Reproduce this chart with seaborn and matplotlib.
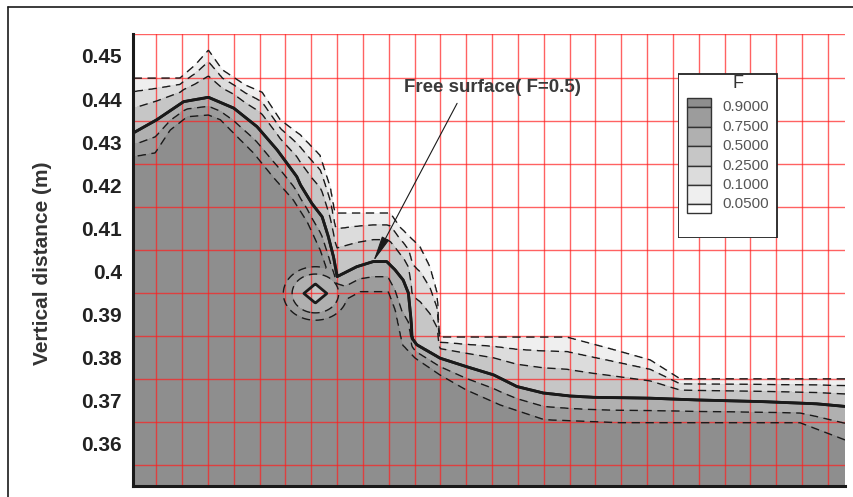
import numpy as np
import matplotlib
matplotlib.use("Agg")
import matplotlib.pyplot as plt
import seaborn as sns
from matplotlib.patches import Rectangle
from matplotlib.lines import Line2D
from matplotlib.ticker import MultipleLocator, FixedLocator, FuncFormatter

sns.set_theme(style="white")
plt.rcParams["font.family"] = ["Liberation Sans", "DejaVu Sans"]
plt.rcParams["lines.dashed_pattern"] = [6, 4]

# ---------------- data ----------------
# free surface, F = 0.5
surf_x = [0.0655, 0.0701, 0.0753, 0.0801, 0.0850, 0.0895, 0.0934, 0.0972, 0.0979,
          0.1001, 0.1021, 0.1033, 0.1043, 0.1050, 0.1088, 0.1120, 0.1146, 0.1162,
          0.1178, 0.1188, 0.1193, 0.1195, 0.1204, 0.1249, 0.1301, 0.1353, 0.1398,
          0.1449, 0.1501, 0.1546, 0.1656, 0.1746, 0.1875, 0.1978, 0.2033]
surf_y = [0.4321, 0.4352, 0.4394, 0.4404, 0.4379, 0.4336, 0.4282, 0.4220, 0.4201,
          0.4158, 0.4127, 0.4081, 0.4034, 0.3988, 0.4011, 0.4023, 0.4023, 0.4004,
          0.3980, 0.3950, 0.3888, 0.3845, 0.3830, 0.3799, 0.3779, 0.3760, 0.3733,
          0.3718, 0.3711, 0.3708, 0.3706, 0.3702, 0.3698, 0.3693, 0.3687]
# outer edge of the interface zone, F = 0.05
top_x = [0.0655, 0.0746, 0.0775, 0.0801, 0.0828, 0.0872, 0.0905, 0.0940, 0.0979,
         0.1017, 0.1037, 0.1046, 0.1153, 0.1172, 0.1211, 0.1230, 0.1244, 0.1247,
         0.1249, 0.1495, 0.1573, 0.1656, 0.1714, 0.2033]
top_y = [0.4449, 0.4449, 0.4479, 0.4514, 0.4468, 0.4433, 0.4416, 0.4352, 0.4317,
         0.4270, 0.4196, 0.4136, 0.4136, 0.4103, 0.4057, 0.4011, 0.3950, 0.3871,
         0.3848, 0.3848, 0.3823, 0.3795, 0.3751, 0.3751]
# inner edge of the interface zone, F = 0.9
bot_x = [0.0655, 0.0698, 0.0727, 0.0760, 0.0801, 0.0824, 0.0857, 0.0888, 0.0926,
         0.0965, 0.0992, 0.1017, 0.1040, 0.1066, 0.1095, 0.1149, 0.1162, 0.1176,
         0.1201, 0.1249, 0.1300, 0.1366, 0.1451, 0.1598, 0.1946, 0.2033]
bot_y = [0.4266, 0.4275, 0.4328, 0.4359, 0.4363, 0.4352, 0.4312, 0.4275, 0.4219,
         0.4166, 0.4115, 0.4050, 0.3969, 0.3934, 0.3953, 0.3953, 0.3911, 0.3830,
         0.3799, 0.3760, 0.3725, 0.3690, 0.3656, 0.3649, 0.3649, 0.3609]
# entrapped air bubble
bubble_center = (0.1008, 0.3949)
bubble_radius = 0.00225
halo_radii = [0.0032, 0.0045, 0.0062, 0.0075]
halo_values = [0.62, 0.75, 0.90, 1.00]

levels = [0.05, 0.10, 0.25, 0.50, 0.75, 0.90]
level_labels = ["0.9000", "0.7500", "0.5000", "0.2500", "0.1000", "0.0500"]
fill_colors = ["#ffffff", "#efefef", "#dcdcdc", "#c6c6c6", "#b0b0b0", "#9c9c9c", "#8e8e8e"]

y_ticks = [0.36, 0.37, 0.38, 0.39, 0.40, 0.41, 0.42, 0.43, 0.44, 0.45]
x_major = [0.10, 0.15, 0.20]
mesh_x = [0.070 + 0.005 * i for i in range(27)]
mesh_y = [0.355 + 0.010 * i for i in range(11)]

xlim = (0.0655, 0.2033)
ylim = (0.3503, 0.4551)

# ---------------- field ----------------
X = np.linspace(xlim[0], xlim[1], 800)
Y = np.linspace(ylim[0], ylim[1], 600)
ys = np.interp(X, surf_x, surf_y)
yt = np.interp(X, top_x, top_y)
yb = np.interp(X, bot_x, bot_y)
F = np.empty((Y.size, X.size))
d = 0.0012
for j in range(X.size):
    up = yt[j] - ys[j]
    dn = ys[j] - yb[j]
    F[:, j] = np.interp(Y,
                        [yb[j] - d, yb[j], ys[j] - 0.5 * dn, ys[j],
                         ys[j] + 0.45 * up, ys[j] + 0.75 * up, yt[j], yt[j] + d],
                        [1.0, 0.9, 0.75, 0.5, 0.25, 0.1, 0.05, 0.0])
XX, YY = np.meshgrid(X, Y)
dx = XX - bubble_center[0]
dy = YY - bubble_center[1]
L1 = np.abs(dx) + np.abs(dy)
E = np.hypot(dx, dy)
F_d = np.interp(L1 / bubble_radius, [0, 1, 1.4], [0.35, 0.5, 0.62])
F_r = np.interp(E, halo_radii, halo_values)
F_b = np.where(L1 <= 1.4 * bubble_radius, F_d, F_r)
F = np.minimum(F, F_b)

# ---------------- figure ----------------
W, H = 854, 497
fig = plt.figure(figsize=(W / 100, H / 100), dpi=100)
ax = fig.add_axes([133 / W, 1 - 485.7 / H, (845 - 133) / W, (485.7 - 34) / H])

ax.contourf(X, Y, F, levels=[-0.01] + levels + [1.01], colors=fill_colors, zorder=1)
for gx in mesh_x:
    ax.axvline(gx, color="#ff2020", lw=1.0, alpha=0.7, zorder=2)
for gy in mesh_y:
    ax.axhline(gy, color="#ff2020", lw=1.0, alpha=0.7, zorder=2)
ax.contour(X, Y, F, levels=[0.05, 0.10, 0.25, 0.75, 0.90], colors="k",
           linewidths=1.0, linestyles="dashed", zorder=3)
ax.contour(X, Y, F, levels=[0.5], colors="k", linewidths=2.0, zorder=4)
sns.lineplot(x=surf_x, y=surf_y, sort=False, color="k", lw=2.0, ax=ax, zorder=4)

ax.set_xlim(*xlim)
ax.set_ylim(*ylim)

ax.yaxis.set_major_locator(FixedLocator(y_ticks))
ax.yaxis.set_minor_locator(MultipleLocator(0.002))
ax.yaxis.set_major_formatter(FuncFormatter(lambda v, p: f"{round(v, 3):g}"))
ax.xaxis.set_major_locator(FixedLocator(x_major))
ax.xaxis.set_minor_locator(MultipleLocator(0.01))
ax.tick_params(which="both", direction="in", left=True, bottom=True, top=False,
               right=False, labelbottom=False, color="k")
ax.tick_params(which="major", length=9, width=1.8, labelsize=15, pad=8)
ax.tick_params(which="minor", length=5, width=1.3)
for t in ax.yaxis.get_major_ticks():
    t.label1.set_fontweight("bold")
    t.label1.set_color("#222222")

for s in ["top", "right"]:
    ax.spines[s].set_visible(False)
for s in ["left", "bottom"]:
    ax.spines[s].set_color("k")
    ax.spines[s].set_linewidth(2.2)
    ax.spines[s].set_zorder(6)

ax.set_ylabel("Vertical distance (m)", fontsize=15, fontweight="bold", color="#333333")
ax.yaxis.set_label_coords(-0.114, 0.493)
ax.set_xlabel("")

ax.annotate("Free surface( F=0.5)", xy=(surf_x[15], surf_y[15]), xytext=(0.1180, 0.4426),
            ha="left", va="center", fontsize=13.5, fontweight="bold", color="#3a3a3a",
            arrowprops=dict(arrowstyle="-|>,head_length=1.6,head_width=0.25", color="k",
                            lw=0.8, relpos=(0.345, 0.5), shrinkA=3, shrinkB=0,
                            mutation_scale=10),
            zorder=7)

# ---------------- contour legend ----------------
lx0, ly0, lw_, lh_ = 678, 73, 100, 165
lax = fig.add_axes([lx0 / W, 1 - (ly0 + lh_) / H, lw_ / W, lh_ / H], zorder=10)
lax.set_xlim(0, lw_)
lax.set_ylim(lh_, 0)
lax.axis("off")
lax.add_patch(Rectangle((0.5, 0.5), lw_ - 1, lh_ - 1, facecolor="white",
                        edgecolor="#222222", lw=1.3))
lax.text(60, 10, "F", ha="center", va="center", fontsize=13, color="#333333")
edges = [25.3, 34.3, 53.7, 73.1, 92.5, 111.9, 131.3, 140.3]
sw_colors = fill_colors[::-1]
for i in range(7):
    lax.add_patch(Rectangle((9, edges[i]), 24, edges[i + 1] - edges[i],
                            facecolor=sw_colors[i], edgecolor="#333333", lw=1.0))
for i, lab in enumerate(level_labels):
    lax.text(44.5, edges[i + 1], lab, ha="left", va="center", fontsize=11,
             color="#555555")

# outer frame
fig.add_artist(Line2D([8 / W, 8 / W], [0, 1 - 7 / H], transform=fig.transFigure,
                      color="k", lw=1.2))
fig.add_artist(Line2D([8 / W, 1], [1 - 7 / H, 1 - 7 / H], transform=fig.transFigure,
                      color="k", lw=1.2))

fig.savefig("out.png", dpi=100, facecolor="white")
